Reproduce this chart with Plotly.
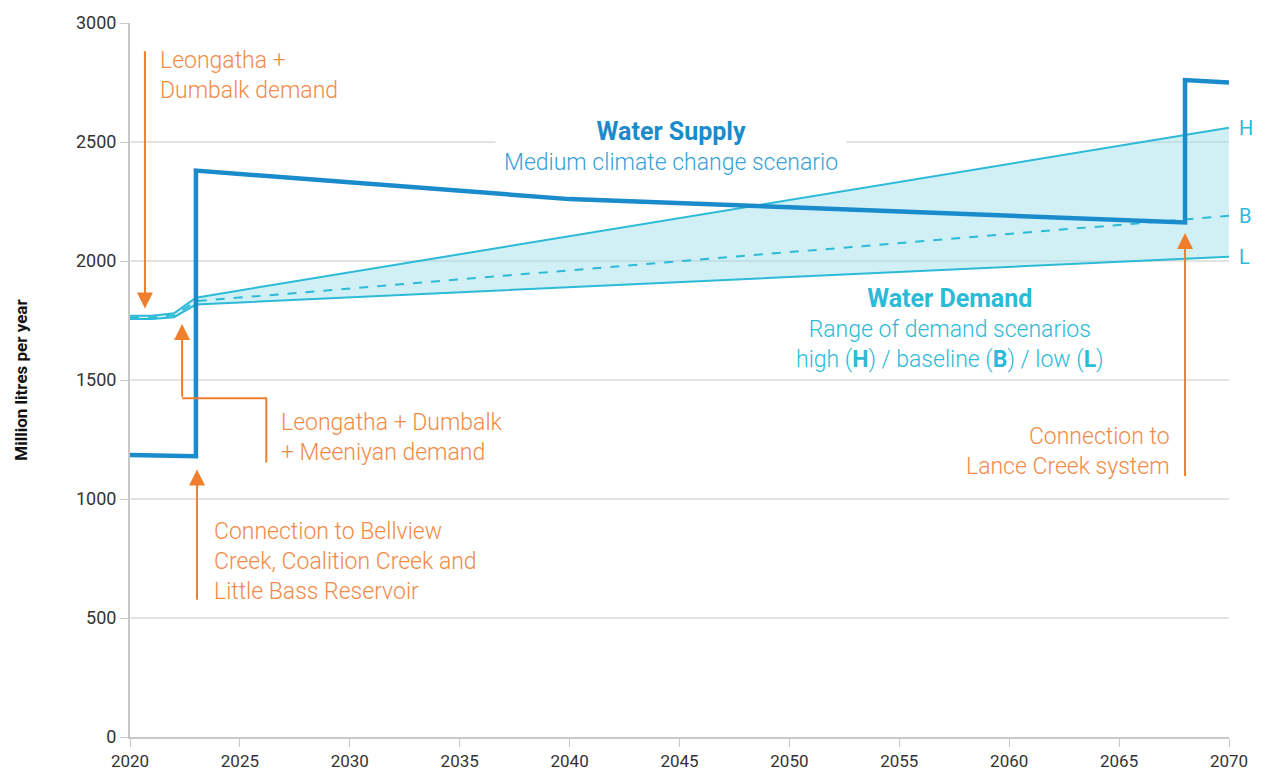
import plotly.graph_objects as go

# ---- data ----
supply_years = [2020, 2023, 2023, 2040, 2050, 2068, 2068, 2070]
supply_vals = [1185, 1180, 2380, 2260, 2226, 2162, 2760, 2750]

demand_years = [2020, 2021, 2022, 2023, 2070]
demand_high = [1770, 1770, 1780, 1846, 2560]
demand_base = [1763, 1763, 1772, 1831, 2190]
demand_low = [1756, 1756, 1764, 1817, 2018]

x_ticks = list(range(2020, 2071, 5))
y_ticks = list(range(0, 3001, 500))

SUPPLY = "#1a8bcb"
DEMAND = "#2cbad7"
FILL = "rgba(150,222,236,0.45)"
ORANGE = "#f07f2d"
OTEXT = "#f28a48"
FONT = "Roboto"
BODY = 23
HEAD = 25

fig = go.Figure()
fig.add_trace(go.Scatter(x=demand_years, y=demand_low, mode="lines",
                         line=dict(color=DEMAND, width=2), hoverinfo="skip"))
fig.add_trace(go.Scatter(x=demand_years, y=demand_high, mode="lines", fill="tonexty",
                         fillcolor=FILL, line=dict(color=DEMAND, width=2), hoverinfo="skip"))
fig.add_trace(go.Scatter(x=demand_years, y=demand_base, mode="lines",
                         line=dict(color=DEMAND, width=2, dash="dash"), hoverinfo="skip"))
fig.add_trace(go.Scatter(x=supply_years, y=supply_vals, mode="lines",
                         line=dict(color=SUPPLY, width=4.5), hoverinfo="skip"))

ann = []
def txt(x, y, text, color, size=BODY, xanchor="left", align="left", bg=None):
    d = dict(x=x, y=y, xref="x", yref="y", text=text, showarrow=False,
             font=dict(family=FONT, size=size, color=color, weight=300),
             xanchor=xanchor, yanchor="middle", align=align)
    if bg:
        d["bgcolor"] = bg
        d["borderpad"] = 8
    ann.append(d)

def arrow(x, y_tail, y_tip):
    ann.append(dict(x=x, y=y_tip, ax=x, ay=y_tail, xref="x", yref="y", axref="x", ayref="y",
                    text="", showarrow=True, arrowhead=2, arrowsize=1.6, arrowwidth=2,
                    arrowcolor=ORANGE))

# Leongatha + Dumbalk demand
arrow(2020.68, 2888, 1800)
txt(2021.27, 2779, "Leongatha +<br>Dumbalk demand", OTEXT)

# Elbow arrow
elbow_x = [2026.2, 2026.2, 2022.37]
elbow_y = [1153, 1423, 1423]
fig.add_trace(go.Scatter(x=elbow_x, y=elbow_y, mode="lines",
                         line=dict(color=ORANGE, width=2), hoverinfo="skip"))
arrow(2022.37, 1423, 1735)
txt(2026.78, 1259, "Leongatha + Dumbalk<br>+ Meeniyan demand", OTEXT)

# Bellview connection
arrow(2023.05, 570, 1124)
txt(2023.73, 736, "Connection to Bellview<br>Creek, Coalition Creek and<br>Little Bass Reservoir", OTEXT)

# Lance Creek
arrow(2068.0, 1090, 2118)
txt(2067.41, 1198, "Connection to<br>Lance Creek system", OTEXT, xanchor="right", align="right")

# Water supply label
txt(2044.6, 2482,
    f"<span style='font-size:{HEAD}px;font-weight:bold'>Water Supply</span><br>"
    "<span style='color:#3a9fd6'>Medium climate change scenario</span>",
    SUPPLY, xanchor="center", align="center", bg="white")

# Water demand label
txt(2057.3, 1718,
    f"<span style='font-size:{HEAD}px;font-weight:bold'>Water Demand</span><br>"
    "Range of demand scenarios<br>high (<b>H</b>) / baseline (<b>B</b>) / low (<b>L</b>)",
    DEMAND, xanchor="center", align="center")

# H / B / L labels
for lab, val in zip(["H", "B", "L"], [demand_high[-1], demand_base[-1], demand_low[-1]]):
    ann.append(dict(x=2070, y=val, xref="x", yref="y", text=lab, showarrow=False,
                    xanchor="left", xshift=8, font=dict(family=FONT, size=20, color=DEMAND)))

fig.update_layout(
    width=1261, height=783,
    margin=dict(l=130, r=32, t=21, b=41),
    paper_bgcolor="white", plot_bgcolor="white",
    showlegend=False,
    annotations=ann,
    font=dict(family=FONT, color="#333333"),
    xaxis=dict(range=[2020, 2070], tickvals=x_ticks, showgrid=False, zeroline=False,
               showline=True, linecolor="#c8c8c8", linewidth=2, ticks="outside",
               ticklen=8, tickcolor="#c8c8c8", tickfont=dict(size=17, color="#333333"),
               fixedrange=True),
    yaxis=dict(range=[0, 3000], tickvals=y_ticks, showgrid=True, gridcolor="#e3e3e3",
               gridwidth=1.5, zeroline=False, showline=True, linecolor="#c8c8c8", linewidth=2,
               ticks="outside", ticklen=8, tickcolor="#c8c8c8",
               tickfont=dict(size=18, color="#333333"),
               title=dict(text="<b>Million litres per year</b>", standoff=44,
                          font=dict(size=17, color="#111111")),
               fixedrange=True),
)

fig.write_html("out.html", config={"displayModeBar": False},
               post_script="document.body.style.margin='0';document.body.style.overflow='hidden';")
